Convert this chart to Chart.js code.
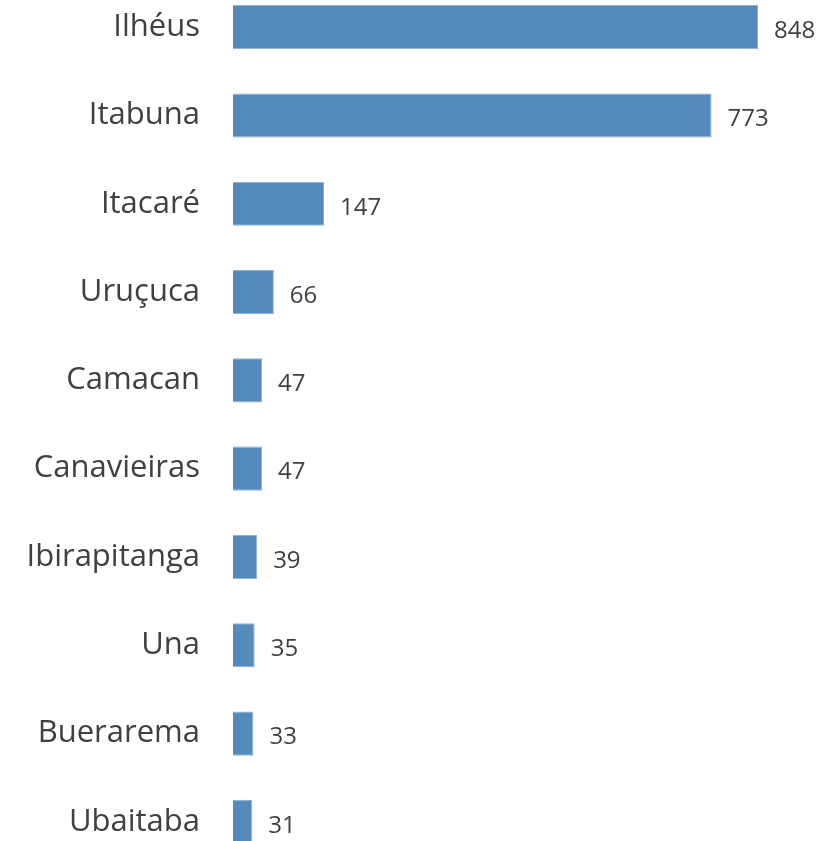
<!DOCTYPE html>
<html>
<head>
<meta charset="utf-8">
<script src="https://cdn.jsdelivr.net/npm/chart.js@4"></script>
<style>
  html, body { margin: 0; padding: 0; background: #fff; overflow: hidden; }
  /* chart area runs a little past the window top/bottom, like the reference */
  #wrap { position: absolute; left: 0; top: -17px; width: 828px; height: 883px; }
</style>
</head>
<body>
<div id="wrap"><canvas id="chart"></canvas></div>
<script>
/* ── data ─────────────────────────────────────────────── */
const cities = ['Ilhéus', 'Itabuna', 'Itacaré', 'Uruçuca', 'Camacan',
                'Canavieiras', 'Ibirapitanga', 'Una', 'Buerarema', 'Ubaitaba'];
const counts = [848, 773, 147, 66, 47, 47, 39, 35, 33, 31];

/* ── style ────────────────────────────────────────────── */
const BAR      = '#548bbb';
const BAR_EDGE = '#8cb1d3';
const TEXT     = '#404040';
const FONT     = "'Open Sans', sans-serif";

// value labels just past the end of each bar
const valueLabels = {
    id: 'valueLabels',
    afterDatasetsDraw(chart) {
        const { ctx } = chart;
        const meta = chart.getDatasetMeta(0);
        ctx.save();
        ctx.font = `24px ${FONT}`;
        ctx.fillStyle = TEXT;
        ctx.textAlign = 'left';
        ctx.textBaseline = 'middle';
        meta.data.forEach((bar, i) => {
            ctx.fillText(String(counts[i]), bar.x + 16, bar.y + 4);
        });
        ctx.restore();
    }
};

new Chart(document.getElementById('chart'), {
    type: 'bar',
    data: {
        labels: cities,
        datasets: [{
            data: counts,
            backgroundColor: BAR,
            borderColor: BAR_EDGE,
            borderWidth: 1,
            barPercentage: 0.5,
            categoryPercentage: 1,
        }],
    },
    options: {
        indexAxis: 'y',
        responsive: true,
        maintainAspectRatio: false,
        animation: false,
        layout: { padding: { left: 0, right: 70, top: 0, bottom: 0 } },
        plugins: {
            legend: { display: false },
            tooltip: { enabled: false },
        },
        scales: {
            x: {
                display: false,
                min: 0,
                max: Math.max(...counts),
            },
            y: {
                grid: { display: false, drawTicks: false },
                border: { display: false },
                ticks: {
                    color: TEXT,
                    padding: 33,
                    autoSkip: false,
                    font: { family: FONT, size: 31 },
                },
                afterFit(scale) {
                    scale.width = 233;
                    // no extra room for half-labels at the ends
                    scale.paddingTop = 0;
                    scale.paddingBottom = 0;
                },
            },
        },
    },
    plugins: [valueLabels],
});
</script>
</body>
</html>
